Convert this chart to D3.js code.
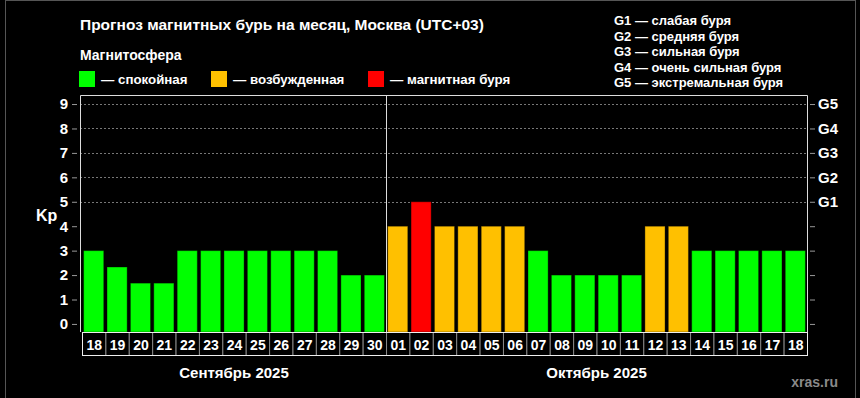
<!DOCTYPE html>
<html>
<head>
<meta charset="utf-8">
<script src="https://cdn.jsdelivr.net/npm/d3@7"></script>
<style>
  body { margin: 0; background: #000; }
  text { font-family: "Liberation Sans", Arial, sans-serif; font-weight: bold; fill: #fff; }
</style>
</head>
<body>
<script>
// data
var days = ["18","19","20","21","22","23","24","25","26","27","28","29","30",
            "01","02","03","04","05","06","07","08","09","10","11","12","13","14","15","16","17","18"];
var kp = [3, 2.33, 1.67, 1.67, 3, 3, 3, 3, 3, 3, 3, 2, 2,
          4, 5, 4, 4, 4, 4, 3, 2, 2, 2, 2, 4, 4, 3, 3, 3, 3, 3];
var months = [{name: "Сентябрь 2025", from: 0, to: 12}, {name: "Октябрь 2025", from: 13, to: 30}];
var kpTicks = [0,1,2,3,4,5,6,7,8,9];
var gLevels = ["G1","G2","G3","G4","G5"];
var gLegend = ["G1 — слабая буря", "G2 — средняя буря", "G3 — сильная буря",
               "G4 — очень сильная буря", "G5 — экстремальная буря"];
var legend = [{label: "— спокойная", color: "#00ff00"},
              {label: "— возбужденная", color: "#ffc000"},
              {label: "— магнитная буря", color: "#ff0000"}];

function colorFor(v) {
  if (v >= 5) return "#ff0000";
  if (v >= 4) return "#ffc000";
  return "#00ff00";
}

var w = 860, h = 398;
var pLeft = 80, pRight = 807, pTop = 95, pBottom = 332;

var svg = d3.select("body").append("svg")
  .attr("width", w).attr("height", h);

svg.append("rect").attr("width", w).attr("height", h).attr("fill", "#000");
// outer frame
svg.append("rect").attr("x", 5.5).attr("y", 0.5).attr("width", 850).attr("height", 410)
  .attr("fill", "none").attr("stroke", "#555");

var x = d3.scaleBand().domain(d3.range(days.length)).range([82, 807]).paddingInner(0.14).paddingOuter(0.07);
var slot = d3.scaleBand().domain(d3.range(days.length)).range([82, 807]);
var y = d3.scaleLinear().domain([-0.33, 9.37]).range([pBottom, pTop]);

// titles
svg.append("text").attr("x", 80).attr("y", 30).style("font-size", "15.5px")
  .text("Прогноз магнитных бурь на месяц, Москва (UTC+03)");
svg.append("text").attr("x", 80).attr("y", 60).style("font-size", "14px").text("Магнитосфера");

var lx = [79, 211, 368];
legend.forEach(function(d, i) {
  svg.append("rect").attr("x", lx[i]).attr("y", 71).attr("width", 16).attr("height", 16).attr("fill", d.color);
  svg.append("text").attr("x", lx[i] + 22).attr("y", 84).style("font-size", "13.3px").text(d.label);
});

gLegend.forEach(function(t, i) {
  svg.append("text").attr("x", 614).attr("y", 25 + i * 15.5).style("font-size", "13px").text(t);
});

// grid lines for G levels
svg.append("g").selectAll("line").data([5,6,7,8,9]).enter().append("line")
  .attr("x1", pLeft).attr("x2", pRight)
  .attr("y1", function(d){ return Math.round(y(d)) + 0.5; }).attr("y2", function(d){ return Math.round(y(d)) + 0.5; })
  .attr("stroke", "#777").attr("stroke-dasharray", "2,2");

// bars
svg.append("g").selectAll("rect").data(kp).enter().append("rect")
  .attr("x", function(d, i){ return x(i); })
  .attr("width", x.bandwidth())
  .attr("y", function(d){ return y(d); })
  .attr("height", function(d){ return pBottom - y(d); })
  .attr("fill", colorFor)
  .attr("stroke", "rgba(0,0,0,0.35)").attr("stroke-width", 1);

// plot border
svg.append("path").attr("d", "M" + (pLeft + 0.5) + "," + pBottom + "V" + (pTop + 0.5) + "H" + (pRight + 0.5) + "V" + pBottom)
  .attr("fill", "none").attr("stroke", "#ddd");
// month separator
svg.append("line").attr("x1", Math.round(slot(13)) + 0.5).attr("x2", Math.round(slot(13)) + 0.5).attr("y1", pTop).attr("y2", pBottom)
  .attr("stroke", "#ddd");

// axes
var yl = svg.append("g").attr("transform", "translate(" + (pLeft - 3) + ",0)")
  .call(d3.axisLeft(y).tickValues(kpTicks).tickSize(5).tickPadding(4).tickFormat(d3.format("d")));
var yr = svg.append("g").attr("transform", "translate(" + (pRight + 3) + ",0)")
  .call(d3.axisRight(y).tickValues(kpTicks).tickSize(5).tickPadding(3)
    .tickFormat(function(d){ return d >= 5 ? gLevels[d - 5] : ""; }));
[yl, yr].forEach(function(g) {
  g.select(".domain").remove();
  g.selectAll(".tick line").attr("stroke", "#999");
  g.selectAll(".tick text").style("font-size", "15px").attr("fill", "#fff")
    .style("font-family", "'Liberation Sans', Arial, sans-serif").style("font-weight", "bold");
});

svg.append("text").attr("x", 36).attr("y", 221).style("font-size", "16px").text("Kp");

// date cells
var cells = svg.append("g");
cells.selectAll("rect").data(days).enter().append("rect")
  .attr("x", function(d, i){ return slot(i) + 0.5; }).attr("y", pBottom + 0.5)
  .attr("width", slot.bandwidth()).attr("height", 23)
  .attr("fill", "#000").attr("stroke", "#888");
cells.append("rect").attr("x", 82.5).attr("y", pBottom + 0.5).attr("width", 725).attr("height", 23)
  .attr("fill", "none").attr("stroke", "#eee");
cells.selectAll("text").data(days).enter().append("text")
  .attr("x", function(d, i){ return slot(i) + slot.bandwidth() / 2 + 0.5; })
  .attr("y", pBottom + 17.5).attr("text-anchor", "middle")
  .style("font-family", "'Liberation Sans Narrow', 'Liberation Sans', Arial, sans-serif")
  .style("font-size", "14px").text(function(d){ return d; });

months.forEach(function(m) {
  var cx = (slot(m.from) + slot(m.to) + slot.bandwidth()) / 2;
  svg.append("text").attr("x", cx).attr("y", 378).attr("text-anchor", "middle")
    .style("font-size", "15px").text(m.name);
});

svg.append("text").attr("x", 838).attr("y", 387).attr("text-anchor", "end")
  .style("font-size", "14px").style("fill", "#8a8a8a").text("xras.ru");
</script>
</body>
</html>
